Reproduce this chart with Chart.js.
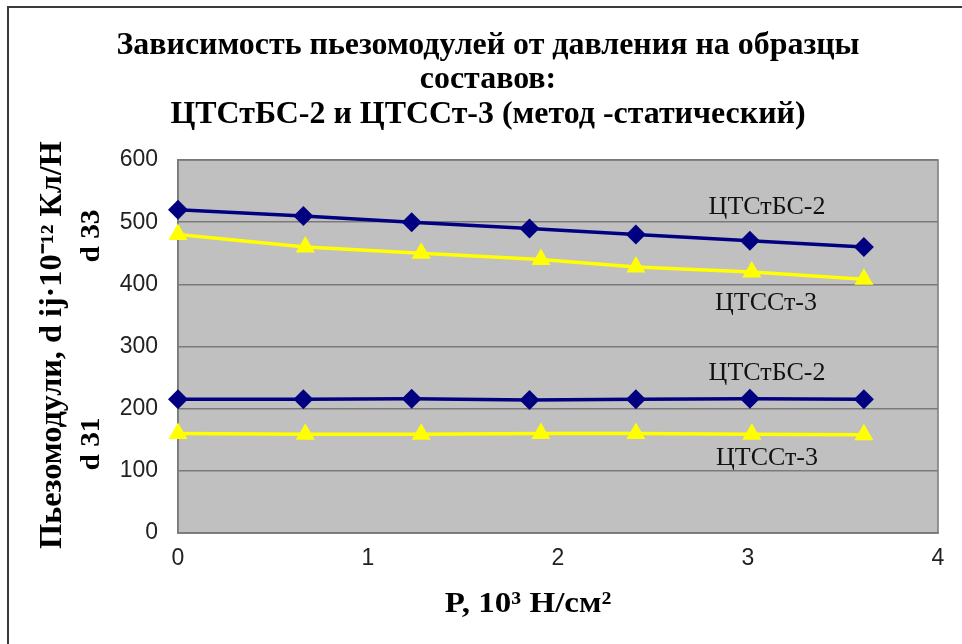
<!DOCTYPE html>
<html>
<head>
<meta charset="utf-8">
<script src="https://cdn.jsdelivr.net/npm/chart.js@4/dist/chart.umd.min.js"></script>
<style>
  html, body { margin: 0; padding: 0; background: #ffffff; }
  #wrap { width: 962px; height: 644px; position: relative; }
</style>
</head>
<body>
<div id="wrap"><canvas id="c" width="962" height="644"></canvas></div>
<script>
// Pressure P, 10^3 N/cm^2 (measurement points differ slightly between compositions)
const pressureA = [0, 0.66, 1.23, 1.85, 2.41, 3.01, 3.61];   // ЦТСтБС-2
const pressureB = [0, 0.67, 1.28, 1.91, 2.41, 3.02, 3.61];   // ЦТССт-3

// Piezomodulus d33, 10^-12 C/N
const d33_A = [520, 510, 500, 490, 480, 470, 460];
const d33_B = [480, 460, 450, 440, 428, 420, 408];

// Piezomodulus d31, 10^-12 C/N
const d31_A = [215, 215, 216, 214, 215, 216, 215];
const d31_B = [160, 159, 159, 160, 160, 159, 158];

const nameA = 'ЦТСтБС-2';
const nameB = 'ЦТССт-3';

const titleLines = [
  'Зависимость пьезомодулей от давления на образцы',
  'составов:',
  'ЦТСтБС-2 и ЦТССт-3 (метод -статический)'
];
const xTitle = 'P, 10³ Н/см²';
const yTitle = 'Пьезомодули, d ij·10⁻¹² Кл/Н';
const yTitle33 = 'd 33';
const yTitle31 = 'd 31';

const xTicks = [0, 1, 2, 3, 4];
const yTicks = [0, 100, 200, 300, 400, 500, 600];

const NAVY = '#000080';
const YELLOW = '#FFFF00';
const SERIF = '"Liberation Serif", "Times New Roman", serif';
const SANS = '"Liberation Sans", Arial, sans-serif';

function pts(xs, ys) { return xs.map((x, i) => ({ x: x, y: ys[i] })); }

function series(label, xs, ys, color, style, radius) {
  return {
    label: label,
    data: pts(xs, ys),
    borderColor: color,
    backgroundColor: color,
    borderWidth: 3.5,
    pointStyle: style,
    pointRadius: radius,
    pointHoverRadius: radius,
    pointBorderWidth: 0,
    tension: 0,
    clip: false
  };
}

// Text helper: draws a string with optional rotation and horizontal stretch
function drawText(ctx, text, x, y, font, opts) {
  opts = opts || {};
  ctx.save();
  ctx.translate(x, y);
  if (opts.rotate) ctx.rotate(opts.rotate);
  if (opts.sx) ctx.scale(opts.sx, 1);
  ctx.font = font;
  ctx.fillStyle = opts.color || '#000';
  ctx.textAlign = 'center';
  ctx.textBaseline = 'middle';
  ctx.fillText(text, 0, 0);
  ctx.restore();
}

const decorPlugin = {
  id: 'decor',
  beforeDraw(chart) {
    const { ctx, chartArea: a } = chart;
    ctx.save();
    ctx.fillStyle = '#ffffff';
    ctx.fillRect(0, 0, chart.width, chart.height);
    // outer frame (top and left edges)
    ctx.strokeStyle = '#3a3a3a';
    ctx.lineWidth = 2;
    ctx.beginPath();
    ctx.moveTo(8, chart.height);
    ctx.lineTo(8, 7);
    ctx.lineTo(chart.width, 7);
    ctx.stroke();
    // plot background
    ctx.fillStyle = '#C0C0C0';
    ctx.fillRect(a.left, a.top, a.right - a.left, a.bottom - a.top);
    ctx.restore();
  },
  beforeDatasetsDraw(chart) {
    const { ctx, chartArea: a } = chart;
    ctx.save();
    ctx.strokeStyle = '#7a7a7a';
    ctx.lineWidth = 1.5;
    ctx.strokeRect(a.left, a.top, a.right - a.left, a.bottom - a.top);
    ctx.restore();
  },
  afterDraw(chart) {
    const ctx = chart.ctx;
    const titleFont = 'bold 31px ' + SERIF;
    drawText(ctx, titleLines[0], 488, 46, titleFont, { sx: 1.03 });
    drawText(ctx, titleLines[1], 488, 80, titleFont, { sx: 1.03 });
    drawText(ctx, titleLines[2], 488, 115, titleFont, { sx: 1.03 });

    drawText(ctx, xTitle, 528, 604, 'bold 30px ' + SERIF, { sx: 1.1 });

    drawText(ctx, yTitle, 53, 345, 'bold 31px ' + SERIF, { rotate: -Math.PI / 2, sx: 1.04 });
    drawText(ctx, yTitle33, 92, 236, 'bold 28px ' + SERIF, { rotate: -Math.PI / 2, sx: 1.05 });
    drawText(ctx, yTitle31, 92, 444, 'bold 28px ' + SERIF, { rotate: -Math.PI / 2, sx: 1.05 });

    // series name labels next to the lines
    const lf = '26px ' + SERIF;
    drawText(ctx, nameA, 767, 207, lf, { color: '#111' });
    drawText(ctx, nameB, 766, 303, lf, { color: '#111' });
    drawText(ctx, nameA, 767, 373, lf, { color: '#111' });
    drawText(ctx, nameB, 767, 458, lf, { color: '#111' });
  }
};

new Chart(document.getElementById('c'), {
  type: 'line',
  data: {
    datasets: [
      series('d33 ' + nameA, pressureA, d33_A, NAVY, 'rectRot', 10),
      series('d33 ' + nameB, pressureB, d33_B, YELLOW, 'triangle', 11),
      series('d31 ' + nameA, pressureA, d31_A, NAVY, 'rectRot', 10),
      series('d31 ' + nameB, pressureB, d31_B, YELLOW, 'triangle', 11)
    ]
  },
  options: {
    responsive: false,
    animation: false,
    devicePixelRatio: 1,
    layout: { padding: { left: 0, right: 24, top: 160, bottom: 0 } },
    plugins: {
      legend: { display: false },
      title: { display: false },
      tooltip: { enabled: false }
    },
    scales: {
      x: {
        type: 'linear',
        min: 0, max: 4,
        afterBuildTicks(scale) { scale.ticks = xTicks.map(v => ({ value: v })); },
        afterFit(scale) { scale.height = 111; },
        grid: { display: false, drawTicks: false },
        border: { display: true, color: '#7a7a7a', width: 1.5 },
        ticks: { padding: 12, color: '#222', font: { family: SANS, size: 23 } }
      },
      y: {
        min: 0, max: 600,
        afterBuildTicks(scale) { scale.ticks = yTicks.map(v => ({ value: v })); },
        afterFit(scale) { scale.width = 178; },
        grid: { color: '#7a7a7a', lineWidth: 1.5, drawTicks: false },
        border: { display: true, color: '#7a7a7a', width: 1.5 },
        ticks: { padding: 20, color: '#222', font: { family: SANS, size: 23 } }
      }
    }
  },
  plugins: [decorPlugin]
});
</script>
</body>
</html>
